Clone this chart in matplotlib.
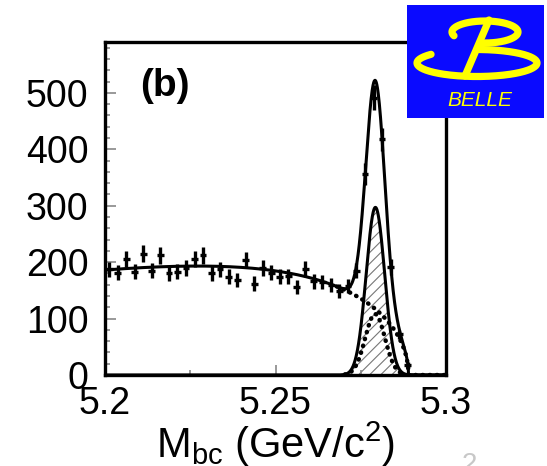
import numpy as np
import matplotlib.pyplot as plt
from matplotlib.patches import Rectangle

plt.rcParams['font.family'] = ['Liberation Sans', 'DejaVu Sans']
plt.rcParams['mathtext.default'] = 'regular'
plt.rcParams['hatch.linewidth'] = 0.8

# datos: centros de bin (GeV/c^2) y cuentas por bin
mbc = [5.20125, 5.20375, 5.20625, 5.20875, 5.21125, 5.21375, 5.21625, 5.21875,
       5.22125, 5.22375, 5.22625, 5.22875, 5.23125, 5.23375, 5.23625, 5.23875,
       5.24125, 5.24375, 5.24625, 5.24875, 5.25125, 5.25375, 5.25625, 5.25875,
       5.26125, 5.26375, 5.26625, 5.26875, 5.27125, 5.27375, 5.27625, 5.27875,
       5.28125, 5.28375, 5.28625, 5.28875]
cuentas = [187, 181, 206, 183, 215, 185, 212, 180, 183, 190, 206, 212,
           180, 187, 174, 168, 204, 162, 190, 181, 174, 175, 156, 188,
           166, 165, 159, 149, 158, 185, 356, 491, 418, 191, 72, 18]
medio_bin = 0.001

# parametros del ajuste
argus_fin   = 5.289    # endpoint
argus_forma = -21.
fondo_5p2   = 186.     # fondo en 5.2
sig_media   = 5.2793
sig_sigma   = 0.0027
sig_altura  = 297.
pk_media    = 5.2792
pk_sigma    = 0.0029
pk_altura   = 108.


def argus(x):
    u = np.clip(1 - (x/argus_fin)**2, 0, None)
    u0 = 1 - (5.2/argus_fin)**2
    f = x*np.sqrt(u)*np.exp(argus_forma*u)
    f0 = 5.2*np.sqrt(u0)*np.exp(argus_forma*u0)
    return fondo_5p2*f/f0


def gauss(x, m, s, h):
    return h*np.exp(-(x - m)**2/2/s**2)


eje_x = np.linspace(5.2, 5.3, 2001)
fondo = argus(eje_x)
senal = gauss(eje_x, sig_media, sig_sigma, sig_altura)
pico  = gauss(eje_x, pk_media, pk_sigma, pk_altura)
total = fondo + senal + pico

fig = plt.figure(figsize=(5.47, 4.66), dpi=100)
ax = fig.add_axes([105/547, 1 - 375/466, 341/547, 333/466])

# componente de senal rayada
ax.fill_between(eje_x, 0, senal, where=senal > 0.3, facecolor='none',
                edgecolor='#777777', hatch='///', lw=0)
ax.plot(eje_x, senal, color='black', lw=2.2)

# curvas punteadas
punteado = (0, (0.1, 1.5))
m_fondo = eje_x >= 5.268
ax.plot(eje_x[m_fondo], fondo[m_fondo], color='black', lw=3.2,
        ls=punteado, dash_capstyle='round')
ax.plot(eje_x, np.where(pico > 1, pico, np.nan), color='black', lw=3.2,
        ls=punteado, dash_capstyle='round')

ax.plot(eje_x, total, color='black', lw=2.2)

ax.errorbar(mbc, cuentas, yerr=np.sqrt(cuentas), xerr=medio_bin, fmt='none',
            ecolor='black', elinewidth=2.4, capsize=0)

ax.set_xlim(5.2, 5.3)
ax.set_ylim(0, 590)
ax.set_xticks([5.2, 5.25, 5.3])
ax.set_xticklabels(['5.2', '5.25', '5.3'])
ax.set_xticks([5.225, 5.275], minor=True)
ax.set_yticks([0, 100, 200, 300, 400, 500])
ax.set_yticks(np.arange(20, 590, 20), minor=True)
ax.tick_params(which='both', direction='in', color='#888888', width=1.2,
               labelsize=27, top=False, right=False)
ax.tick_params(axis='y', which='major', length=8, pad=12)
ax.tick_params(axis='y', which='minor', length=3.5)
ax.tick_params(axis='x', which='major', length=7, pad=8)
ax.tick_params(axis='x', which='minor', length=3.5)
for sp in ax.spines.values():
    sp.set_linewidth(2.4)

ax.text(0.176, 0.868, '(b)', transform=ax.transAxes, fontsize=28,
        fontweight='bold', ha='center', va='center')

fig.text(276/547, 1 - 458/466, r'M$_{bc}$ (GeV/c$^2$)', fontsize=30,
         ha='center', va='baseline')

# corte a la derecha del "5.3"
fig.patches.append(Rectangle((476/547, 1 - 425/466), 71/547, 45/466,
                             transform=fig.transFigure, color='white',
                             zorder=10))
fig.text(462/547, 1 - 452/466, '2', fontsize=20, color='#c8c8c8', va='top')

# logo BELLE
lg = fig.add_axes([407/547, 1 - 118/466, 137/547, 113/466], zorder=20)
lg.set_facecolor('#0a0aff')
lg.set_xlim(407, 544)
lg.set_ylim(118, 5)
lg.set_xticks([])
lg.set_yticks([])
for sp in lg.spines.values():
    sp.set_visible(False)
amarillo = '#ffff00'
t = np.radians(np.linspace(200, -95, 200))
lg.plot(485 + 33*np.cos(t), 32 - 11*np.sin(t), color=amarillo, lw=5.2,
        solid_capstyle='round')
t = np.radians(np.linspace(140, 448, 250))
lg.plot(477 + 60*np.cos(t), 63 - 13.5*np.sin(t), color=amarillo, lw=5.2,
        solid_capstyle='round')
lg.plot([489, 465], [20, 76], color=amarillo, lw=5.2, solid_capstyle='round')
lg.text(480, 100, 'BELLE', color=amarillo, fontsize=15, style='italic',
        ha='center', va='center')

fig.savefig('out.png', dpi=100)
